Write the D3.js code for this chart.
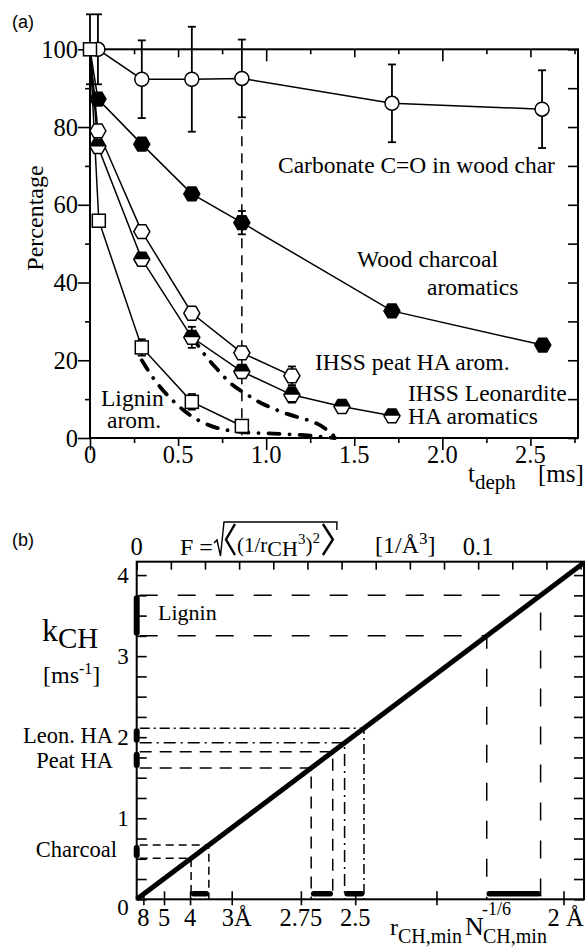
<!DOCTYPE html>
<html>
<head>
<meta charset="utf-8">
<script src="https://cdn.jsdelivr.net/npm/d3@7"></script>
<style>
body { margin: 0; background: #fff; }
svg text { font-family: "Liberation Serif", "Times New Roman", serif; fill: #000; }
.tick line { stroke: #000; stroke-width: 1.6; }
</style>
</head>
<body>
<div id="chart"></div>
<script>
// ---------- panel (a) data : percentage vs dephasing time ----------
var carbonateT = [0.045, 0.294, 0.578, 0.862, 1.714, 2.566];
var carbonateP = [100, 92.3, 92.3, 92.5, 86.1, 84.6];
var carbonateErr = [9, 10, 13.5, 10, 10, 10];

var charcoalT = [0.045, 0.294, 0.578, 0.862, 1.714, 2.57];
var charcoalP = [87.2, 75.6, 62.8, 55.4, 32.7, 23.9];
var charcoalErr = [0, 0, 0, 3, 0, 0];

var peatT = [0.045, 0.294, 0.578, 0.862, 1.146];
var peatP = [79, 53.1, 32.1, 21.9, 16.0];
var peatErr = [0, 0, 0, 0, 2.4];

var leonT = [0.045, 0.294, 0.578, 0.862, 1.146, 1.43, 1.714];
var leonP = [75, 46, 25.9, 17.1, 11.1, 8.1, 5.7];
var leonErr = [0, 0, 2.7, 0, 2, 0, 0];

var ligninT = [0, 0.05, 0.294, 0.578, 0.862];
var ligninP = [100, 55.9, 23.3, 9.3, 3.1];
var ligninErr = [9, 0, 2.1, 2, 0];

// fitted curves (thick dash-dot)
var fitLigninT = [0.294, 0.35, 0.41, 0.473, 0.53, 0.58, 0.65, 0.72, 0.81, 0.9, 1.0, 1.1, 1.19, 1.3, 1.39];
var fitLigninP = [20, 16, 12.5, 9.5, 7.2, 5.5, 3.8, 2.6, 1.8, 1.4, 1.2, 1.0, 0.8, 0.4, 0];
var fitHAT = [0.58, 0.65, 0.72, 0.8, 0.89, 0.97, 1.05, 1.12, 1.19, 1.25, 1.31, 1.36, 1.39];
var fitHAP = [26, 21.5, 17.8, 14, 11.2, 9.0, 7.4, 6.2, 5.2, 4.4, 3.2, 1.5, 0.3];

var markT = 0.862;          // vertical dashed marker
var markTop = 82;

var tMajor = [0, 0.5, 1, 1.5, 2, 2.5];
var tMajorLabels = ["0", "0.5", "1.0", "1.5", "2.0", "2.5"];
var tInt = [0, 1, 2];
var tHalf = [0.5, 1.5, 2.5];
var tQuarter = [0.25, 0.75, 1.25, 1.75, 2.25, 2.75];
var pMajor = [0, 20, 40, 60, 80, 100];
var pMinor = [10, 30, 50, 70, 90];

// ---------- panel (b) data : k_CH vs F ----------
var lineF = [0, 0.131];
var lineK = [0, 4.153];
var rangeNames = ["Lignin", "Leon. HA", "Peat HA", "Charcoal"];
var kLow = [3.25, 1.93, 1.62, 0.505];
var kHigh = [3.75, 2.11, 1.82, 0.67];
var kTicks = [0, 1, 2, 3, 4];
var kMinor = d3.range(0, 4.01, 0.25);
var fTicks = d3.range(0, 0.1301, 0.01);
var fLabels = [0, 0.1];
var rTicks = [8, 5, 4, 3.3, 2.75, 2.5, 2.25, 2];
var rLabels = ["8", "5", "4", "3Å", "2.75", "2.5", "", "2 Å"];

var W = 585, H = 947;
var svg = d3.select("#chart").append("svg").attr("width", W).attr("height", H);

// tick marks only, through d3 axes
function tickPart(g, fn, scale, values, size) {
    var a = g.append("g").call(fn(scale).tickValues(values).tickSize(size).tickFormat(""));
    a.select(".domain").remove();
    a.selectAll("text").remove();
    return a;
}

// tick labels placed with the scale
function tickLabels(g, values, texts, pos, fs, anchor) {
    return g.selectAll(null).data(values).join("text")
        .attr("x", function(d){ return pos(d)[0]; })
        .attr("y", function(d){ return pos(d)[1]; })
        .attr("text-anchor", anchor)
        .style("font-size", fs + "px")
        .text(function(d, i){ return texts[i]; });
}

// ================= panel (a) =================
var xA = d3.scaleLinear().domain([0, 2.77]).range([90, 578]);
var yA = d3.scaleLinear().domain([0, 100]).range([438, 49.3]);
var gA = svg.append("g");

gA.append("text").attr("x", 12).attr("y", 28).style("font-family", "'Liberation Sans', Arial, sans-serif")
    .style("font-size", "18px").text("(a)");

var bA = gA.append("g").attr("transform", "translate(0," + yA(0) + ")");
tickPart(bA, d3.axisBottom, xA, tInt, 12);
tickPart(bA, d3.axisBottom, xA, tHalf, 8);
tickPart(bA, d3.axisBottom, xA, tQuarter, 5);
tickLabels(gA, tMajor, tMajorLabels, function(d){ return [xA(d), yA(0) + 25]; }, 24.5, "middle");

var tpA = gA.append("g").attr("transform", "translate(0," + yA(100) + ")");
tickPart(tpA, d3.axisBottom, xA, tInt, 12);
tickPart(tpA, d3.axisBottom, xA, tHalf, 8);
tickPart(tpA, d3.axisBottom, xA, tQuarter, 5);

var lA = gA.append("g").attr("transform", "translate(" + xA(0) + ",0)");
tickPart(lA, d3.axisLeft, yA, pMajor, 12);
tickPart(lA, d3.axisLeft, yA, pMinor, 5);
tickLabels(gA, pMajor, pMajor.map(String), function(d){ return [xA(0) - 12, yA(d) + 8.5]; }, 24.5, "end");

var rA = gA.append("g").attr("transform", "translate(" + xA.range()[1] + ",0)");
tickPart(rA, d3.axisRight, yA, pMajor.concat(pMinor), -10);

gA.append("rect").attr("x", xA(0)).attr("y", yA(100))
    .attr("width", xA.range()[1] - xA(0)).attr("height", yA(0) - yA(100))
    .attr("fill", "none").attr("stroke", "#000").attr("stroke-width", 2);

gA.append("text").attr("transform", "translate(43,218) rotate(-90)")
    .attr("text-anchor", "middle").style("font-size", "24px").text("Percentage");

var xl = gA.append("text").attr("x", 468).attr("y", 482).style("font-size", "25px");
xl.append("tspan").text("t");
xl.append("tspan").attr("dy", 7).style("font-size", "21px").text("deph");
gA.append("text").attr("x", 538).attr("y", 482).style("font-size", "25px").text("[ms]");

var lineA = d3.line().x(function(d){ return xA(d[0]); }).y(function(d){ return yA(d[1]); });

var seriesA = [
    {t: carbonateT, p: carbonateP, err: carbonateErr, mark: "circle", origin: false},
    {t: charcoalT, p: charcoalP, err: charcoalErr, mark: "hexFull", origin: true},
    {t: peatT, p: peatP, err: peatErr, mark: "hexOpen", origin: true},
    {t: leonT, p: leonP, err: leonErr, mark: "hexHalf", origin: true},
    {t: ligninT, p: ligninP, err: ligninErr, mark: "square", origin: false}
];

seriesA.forEach(function(s){
    var pts = s.t.map(function(t, i){ return [t, s.p[i]]; });
    if (s.origin) pts.unshift([0, 100]);
    gA.append("path").attr("d", lineA(pts)).attr("fill", "none")
        .attr("stroke", "#000").attr("stroke-width", 1.5);
});

var fitLine = d3.line().curve(d3.curveMonotoneX)
    .x(function(d){ return xA(d[0]); }).y(function(d){ return yA(d[1]); });
[[fitLigninT, fitLigninP], [fitHAT, fitHAP]].forEach(function(f){
    var pts = f[0].map(function(t, i){ return [t, f[1][i]]; });
    gA.append("path").attr("d", fitLine(pts)).attr("fill", "none")
        .attr("stroke", "#000").attr("stroke-width", 3.8).attr("stroke-linecap", "round")
        .attr("stroke-dasharray", "11,10,0.1,10");
});

gA.append("line").attr("x1", xA(markT)).attr("x2", xA(markT))
    .attr("y1", yA(markTop)).attr("y2", yA(0))
    .attr("stroke", "#000").attr("stroke-width", 1.5).attr("stroke-dasharray", "10,7");

function hexPts(r, half) {
    var p = [];
    for (var i = 0; i < 6; i++) {
        var a = Math.PI / 3 * i;
        p.push([r * Math.cos(a), r * Math.sin(a)]);
    }
    if (half) return "M" + [[-r, 0], p[4], p[5], [r, 0]].join("L") + "Z";
    return "M" + p.join("L") + "Z";
}

seriesA.forEach(function(s){
    s.t.forEach(function(t, i){
        var cx = xA(t), cy = yA(s.p[i]), e = s.err[i];
        if (e > 0) {
            var eb = gA.append("g").attr("stroke", "#000").attr("stroke-width", 1.8);
            eb.append("line").attr("x1", cx).attr("x2", cx).attr("y1", yA(s.p[i] + e)).attr("y2", yA(s.p[i] - e));
            eb.append("line").attr("x1", cx - 4).attr("x2", cx + 4).attr("y1", yA(s.p[i] + e)).attr("y2", yA(s.p[i] + e));
            eb.append("line").attr("x1", cx - 4).attr("x2", cx + 4).attr("y1", yA(s.p[i] - e)).attr("y2", yA(s.p[i] - e));
        }
        var m = gA.append("g").attr("transform", "translate(" + cx + "," + cy + ")");
        if (s.mark === "circle") {
            m.append("circle").attr("r", 7).attr("fill", "#fff").attr("stroke", "#000").attr("stroke-width", 1.5);
        } else if (s.mark === "square") {
            m.append("rect").attr("x", -6.5).attr("y", -6.5).attr("width", 13).attr("height", 13)
                .attr("fill", "#fff").attr("stroke", "#000").attr("stroke-width", 1.5);
        } else {
            m.append("path").attr("d", hexPts(8)).attr("fill", s.mark === "hexFull" ? "#000" : "#fff");
            if (s.mark === "hexHalf") m.append("path").attr("d", hexPts(8, true)).attr("fill", "#000");
            m.append("path").attr("d", hexPts(8)).attr("fill", "none").attr("stroke", "#000").attr("stroke-width", 1.5);
        }
    });
});

var notesA = [
    ["Carbonate C=O in wood char", 278, 173],
    ["Wood charcoal", 357, 267],
    ["aromatics", 427, 295],
    ["IHSS peat HA arom.", 315, 370],
    ["IHSS Leonardite", 408, 401],
    ["HA aromatics", 408, 424],
    ["Lignin", 101, 406],
    ["arom.", 107, 428]
];
notesA.forEach(function(n){
    gA.append("text").attr("x", n[1]).attr("y", n[2]).style("font-size", "23.5px").text(n[0]);
});

// ================= panel (b) =================
var xB = d3.scaleLinear().domain([0, 0.131]).range([136.7, 584]);
var yB = d3.scaleLinear().domain([0, 4.165]).range([899.3, 561.7]);
var gB = svg.append("g");

gB.append("text").attr("x", 12).attr("y", 546).style("font-family", "'Liberation Sans', Arial, sans-serif")
    .style("font-size", "18px").text("(b)");

var lB = gB.append("g").attr("transform", "translate(" + xB(0) + ",0)");
tickPart(lB, d3.axisRight, yB, kMinor, 10);
tickLabels(gB, kTicks, kTicks.map(String), function(d){
    return [xB(0) - 8, yB(d) + (d === 0 ? 16 : 7.5)];
}, 23, "end");

var rB = gB.append("g").attr("transform", "translate(" + xB.range()[1] + ",0)");
tickPart(rB, d3.axisRight, yB, kMinor, -10);

var tB = gB.append("g").attr("transform", "translate(0," + yB.range()[1] + ")");
tickPart(tB, d3.axisBottom, xB, fTicks, 8);
tickLabels(gB, fLabels, ["0", "0.1"], function(d){ return [xB(d), yB.range()[1] - 7]; }, 24.5, "middle");

var bB = gB.append("g").attr("transform", "translate(0," + yB(0) + ")");
var rPos = rTicks.map(function(r){ return 1 / (r * r * r); });
tickPart(bB, d3.axisBottom, xB, rPos, 6);
tickPart(bB, d3.axisTop, xB, rPos, 8);
tickLabels(gB, rPos, rLabels, function(d, i){
    var lab = rLabels[rPos.indexOf(d)];
    var off = lab.indexOf("Å") < 0 ? 0 : (lab.length > 2 ? -16 : -10);
    return [xB(d) + off, yB(0) + 27];
}, 24.5, "middle")
    .attr("text-anchor", function(d){ return rLabels[rPos.indexOf(d)].indexOf("Å") < 0 ? "middle" : "start"; });

gB.append("rect").attr("x", xB(0)).attr("y", yB.range()[1])
    .attr("width", xB.range()[1] - xB(0)).attr("height", yB(0) - yB.range()[1])
    .attr("fill", "none").attr("stroke", "#000").attr("stroke-width", 2);

// F on the line for a given k
var kToF = d3.scaleLinear().domain(lineK).range(lineF);
var dashStyles = [["18,20", "18,20"], ["12,5,2,5", "10,4,2,4"], ["12,8", "12,8"], ["8,5", "8,5"]];

rangeNames.forEach(function(name, i){
    [kLow[i], kHigh[i]].forEach(function(k, j){
        var f = kToF(k);
        var dash = dashStyles[i][j];
        gB.append("path")
            .attr("d", "M" + (xB(0) + 3) + "," + yB(k) + "H" + xB(f) + "V" + yB(0))
            .attr("fill", "none").attr("stroke", "#000").attr("stroke-width", 1.5)
            .attr("stroke-dasharray", dash);
    });
    gB.append("line").attr("x1", xB(0)).attr("x2", xB(0))
        .attr("y1", yB(kLow[i]) - 3).attr("y2", yB(kHigh[i]) + 3)
        .attr("stroke", "#000").attr("stroke-width", 6).attr("stroke-linecap", "round");
    gB.append("line").attr("x1", xB(kToF(kLow[i])) + 2.5).attr("x2", xB(kToF(kHigh[i])) - 2.5)
        .attr("y1", yB(0) - 5.5).attr("y2", yB(0) - 5.5)
        .attr("stroke", "#000").attr("stroke-width", 5.5).attr("stroke-linecap", "round");
});

gB.append("line").attr("x1", xB(lineF[0])).attr("y1", yB(lineK[0]))
    .attr("x2", xB(lineF[1])).attr("y2", yB(lineK[1]))
    .attr("stroke", "#000").attr("stroke-width", 5);

gB.append("text").attr("x", 158).attr("y", 620).style("font-size", "22px").text("Lignin");
gB.append("text").attr("x", 113).attr("y", 743).attr("text-anchor", "end").style("font-size", "22.5px").text("Leon. HA");
gB.append("text").attr("x", 113).attr("y", 768).attr("text-anchor", "end").style("font-size", "22.5px").text("Peat HA");
gB.append("text").attr("x", 117).attr("y", 857).attr("text-anchor", "end").style("font-size", "22.5px").text("Charcoal");

var kt = gB.append("text").attr("x", 42).attr("y", 641).style("font-size", "32px");
kt.append("tspan").text("k");
kt.append("tspan").attr("dy", 7).style("font-size", "29px").text("CH");
var ms = gB.append("text").attr("x", 43).attr("y", 683).style("font-size", "24px");
ms.append("tspan").text("[ms");
ms.append("tspan").attr("dy", -9).style("font-size", "16px").text("-1");
ms.append("tspan").attr("dy", 9).text("]");

// top label F = sqrt(<(1/r^3)^2>) [1/Å^3]
gB.append("text").attr("x", 180).attr("y", 555).style("font-size", "24px").text("F =");
var inner = gB.append("text").attr("x", 237).attr("y", 552).style("font-size", "21px");
inner.append("tspan").text("(1/r");
inner.append("tspan").attr("dy", 4).style("font-size", "22px").text("CH");
inner.append("tspan").attr("dy", -12).style("font-size", "15px").text("3");
inner.append("tspan").attr("dy", 8).text(")");
inner.append("tspan").attr("dy", -9).style("font-size", "15px").text("2");
var ib = inner.node().getBBox();
var ce = ib.x + ib.width + 3;
gB.append("path").attr("d", "M235,524L226,539.5L235,555").attr("fill", "none")
    .attr("stroke", "#000").attr("stroke-width", 2.4);
gB.append("path").attr("d", "M" + ce + ",524L" + (ce + 10) + ",539.5L" + ce + ",555").attr("fill", "none")
    .attr("stroke", "#000").attr("stroke-width", 2.4);
gB.append("path").attr("d", "M214,543L217,540L220.5,556L224,522H" + (ce + 14) + "V530").attr("fill", "none")
    .attr("stroke", "#000").attr("stroke-width", 1.4);
var un = gB.append("text").attr("x", 375).attr("y", 553).style("font-size", "24px");
un.append("tspan").text("[1/Å");
un.append("tspan").attr("dy", -9).style("font-size", "17px").text("3");
un.append("tspan").attr("dy", 9).text("]");

// bottom label r_CH,min N_CH,min^-1/6
var rt = gB.append("text").attr("x", 390).attr("y", 935).style("font-size", "24px");
rt.append("tspan").text("r");
rt.append("tspan").attr("dy", 8).style("font-size", "20px").text("CH,min");
gB.append("text").attr("x", 465).attr("y", 935).style("font-size", "26px").text("N");
gB.append("text").attr("x", 482).attr("y", 915).style("font-size", "18px").text("-1/6");
gB.append("text").attr("x", 483).attr("y", 943).style("font-size", "20px").text("CH,min");
</script>
</body>
</html>
